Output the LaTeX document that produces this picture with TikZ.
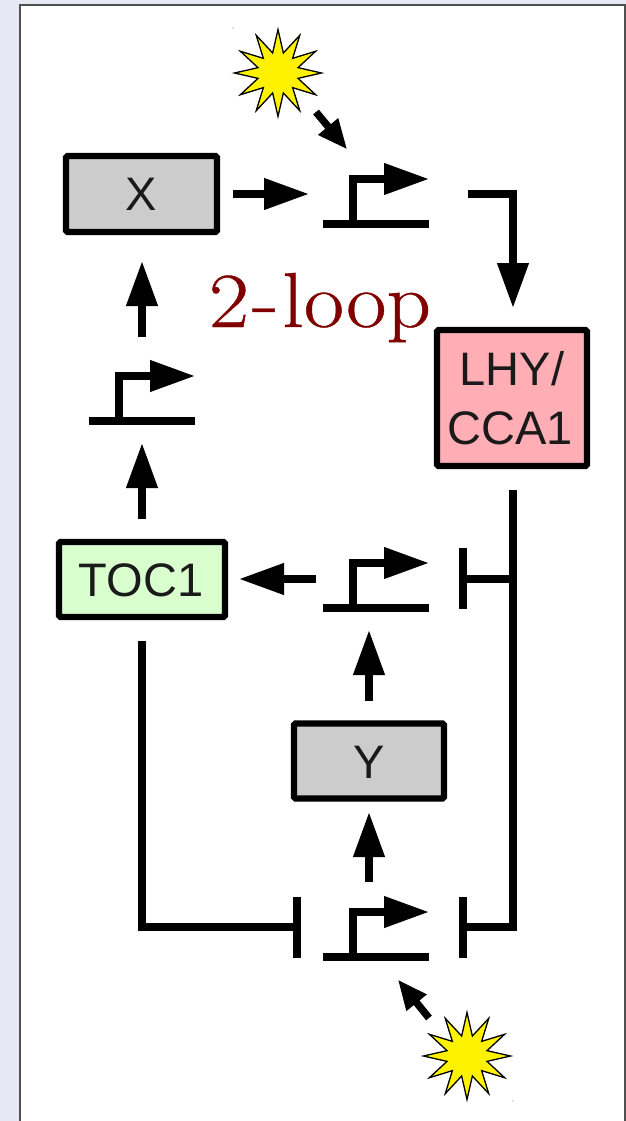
\documentclass[tikz,border=0pt]{standalone}
\usepackage{fontspec}
\setmainfont{Liberation Sans}
\newfontfamily\loopfont[FakeBold=0.5]{Latin Modern Roman}
\usetikzlibrary{arrows.meta,shapes.geometric}
\definecolor{pagebg}{HTML}{E8E8F4}
\definecolor{framegray}{HTML}{505050}
\definecolor{boxgray}{HTML}{CCCCCC}
\definecolor{boxpink}{HTML}{FFAEB5}
\definecolor{boxgreen}{HTML}{D9FFCF}
\definecolor{loopred}{HTML}{800000}
\definecolor{inkgray}{HTML}{1A1A1A}
\tikzset{
  genebox/.style={draw=black,line width=6.3pt,rounded corners=1.5pt,inner sep=0pt},
  boxlabel/.style={anchor=base,inner sep=0pt,text=inkgray,font=\fontsize{47}{59}\selectfont},
  bigarrow/.style={line width=7.4pt,shorten >=-2pt,-{Triangle[length=45pt,width=30pt]}},
  smallarrow/.style={line width=7.4pt,shorten >=-2pt,-{Triangle[length=30pt,width=24pt]}},
  blockline/.style={line width=7.4pt,line join=miter},
  blockbar/.style={line width=8pt},
  sunburst/.style={star,star points=12,star point ratio=2.1,minimum size=87pt,inner sep=0pt,draw=black,line width=1.3pt,fill=yellow},
  pics/promoter/.style={code={
    \draw[line width=7.4pt] (0,0) -- (106,0);
    \draw[line width=7.4pt,line join=miter,shorten >=-2pt,-{Triangle[length=45pt,width=30pt]}] (30,3.7) -- (30,-45) -- (104,-45);
  }}
}
\begin{document}
\begin{tikzpicture}[x=1pt,y=-1pt]
\useasboundingbox (0,0) rectangle (626,1121);
\fill[pagebg] (0,0) rectangle (626,1121);
\fill[white] (20,5) rectangle (625,1121);
\draw[framegray,line width=1.5pt] (20,1121) -- (20,5) -- (625,5) -- (625,1121);

% boxes
\node[genebox,fill=boxgray,minimum width=151pt,minimum height=76pt] (X) at (141.5,194) {};
\node[genebox,fill=boxgray,minimum width=150pt,minimum height=75pt] (Y) at (369,761) {};
\node[genebox,fill=boxgreen,minimum width=166pt,minimum height=75pt] (TOC) at (142,579.5) {};
\node[genebox,fill=boxpink,minimum width=150pt,minimum height=136pt] (LHY) at (512,398) {};
\node[boxlabel] (Xt) at (141.5,210) {X};
\node[boxlabel] (Yt) at (369,778) {Y};
\node[boxlabel] (TOCt) at (141,596) {TOC1};
\node[boxlabel] (LHYa) at (512,385) {LHY/};
\node[boxlabel] (LHYb) at (510,444) {CCA1};

% title
\node[anchor=base,inner sep=0pt,text=loopred,font=\loopfont\fontsize{78}{78}\selectfont] (title) at (320,327) {\scalebox{1.12}[1]{2\kern3pt-\kern3pt loop}};

% promoters
\pic (p1) at (323,224) {promoter};
\pic (p2) at (89,421) {promoter};
\pic (p3) at (323,608) {promoter};
\pic (p4) at (323,957) {promoter};

% stars
\node[sunburst] (s1) at (278,73) {};
\node[sunburst] (s2) at (467,1056) {};
\fill[gray] (233,28) circle (0.6pt) (513,1101) circle (0.6pt);

% connector ends
\coordinate (a1s) at (316,112); \coordinate (a1e) at (346,148);
\coordinate (a2s) at (429,1018); \coordinate (a2e) at (399,981);
\coordinate (xs) at (233,194); \coordinate (xe) at (307,194);
\coordinate (ls) at (468,194); \coordinate (lk) at (513,194); \coordinate (le) at (513,306);
\coordinate (us) at (142,337); \coordinate (ue) at (142,263);
\coordinate (ts) at (142,519); \coordinate (te) at (142,445);
\coordinate (ms) at (316,579); \coordinate (me) at (241,579);
\coordinate (ys) at (369,701); \coordinate (ye) at (369,632);
\coordinate (zs) at (369,882); \coordinate (ze) at (369,814);

\draw[smallarrow] (a1s) -- (a1e);
\draw[smallarrow] (a2s) -- (a2e);
\draw[bigarrow] (xs) -- (xe);
\draw[bigarrow,line join=miter] (ls) -- (lk) -- (le);
\draw[bigarrow] (us) -- (ue);
\draw[bigarrow] (ts) -- (te);
\draw[bigarrow] (ms) -- (me);
\draw[bigarrow] (ys) -- (ye);
\draw[bigarrow] (zs) -- (ze);

% repression lines
\coordinate (r0) at (513,490); \coordinate (r1) at (513,927); \coordinate (r2) at (463,927);
\coordinate (rb) at (513,579); \coordinate (rc) at (463,579);
\coordinate (g0) at (142,641); \coordinate (g1) at (142,927); \coordinate (g2) at (297,927);
\draw[blockline] (r0) -- (r1) -- (r2);
\draw[blockline] (rb) -- (rc);
\draw[blockline] (g0) -- (g1) -- (g2);
\draw[blockbar] (463,897) -- (463,958);
\draw[blockbar] (463,548) -- (463,609);
\draw[blockbar] (297,897) -- (297,958);
\end{tikzpicture}
\end{document}
